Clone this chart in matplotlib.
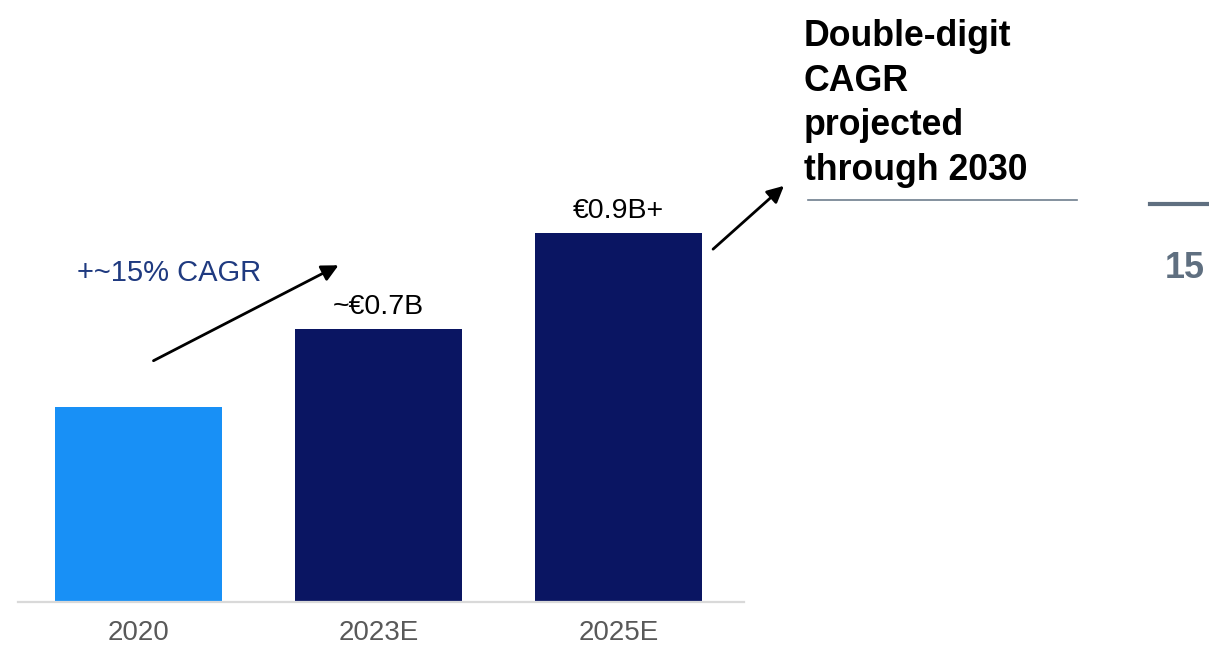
import matplotlib
matplotlib.use("Agg")
import matplotlib.pyplot as plt

plt.rcParams['font.family'] = ['Liberation Sans', 'DejaVu Sans']

# Revenue by year (EUR billions)
years = ["2020", "2023E", "2025E"]
revenue = [0.50, 0.70, 0.945]
value_labels = ["", "~€0.7B", "€0.9B+"]
bar_colors = ["#1890F6", "#0A1562", "#0A1562"]

cagr_label = "+~15% CAGR"
headline = "Double-digit\nCAGR\nprojected\nthrough 2030"
page_number = "15"

W, H = 1209, 646
fig = plt.figure(figsize=(W / 100, H / 100), dpi=100)
fig.patch.set_facecolor("white")

def fx(px):
    return px / W

def fy(py):
    return 1 - py / H

ax = fig.add_axes([fx(18), fy(602), fx(744) - fx(18), 602 / H])
x = list(range(len(years)))
bars = ax.bar(x, revenue, width=0.696, color=bar_colors, zorder=2)
ax.set_xlim(-0.502, 2.523)
ax.set_ylim(0, 1.5416)

for rect, lab in zip(bars, value_labels):
    if lab:
        ax.annotate(lab, (rect.get_x() + rect.get_width() / 2, rect.get_height()),
                    xytext=(0, 10.5), textcoords="offset points",
                    ha="center", va="baseline", fontsize=20.5, color="black")

ax.set_xticks(x)
ax.set_xticklabels(years, fontsize=20, color="#595959")
ax.tick_params(axis="x", length=0, pad=13)
ax.set_yticks([])
for side in ["top", "right", "left"]:
    ax.spines[side].set_visible(False)
ax.spines["bottom"].set_color("#D9D9D9")
ax.spines["bottom"].set_linewidth(1.6)

# Growth arrow between 2020 and 2023E
fig.add_artist(matplotlib.patches.FancyArrowPatch(
    (fx(151), fy(362)), (fx(341), fy(264)), transform=fig.transFigure,
    arrowstyle="-|>,head_length=10,head_width=5", mutation_scale=1,
    color="black", lw=2))
fig.text(fx(77), fy(281), cagr_label, fontsize=21, color="#1F3A80",
         ha="left", va="baseline")

# Arrow from 2025E towards the headline
fig.add_artist(matplotlib.patches.FancyArrowPatch(
    (fx(711), fy(251)), (fx(786), fy(184)), transform=fig.transFigure,
    arrowstyle="-|>,head_length=10,head_width=5", mutation_scale=1,
    color="black", lw=2))

fig.text(fx(804), fy(180), headline, fontsize=25.7, fontweight="bold",
         color="black", ha="left", va="baseline", linespacing=1.36)
fig.add_artist(matplotlib.lines.Line2D([fx(808), fx(1077)], [fy(200), fy(200)],
                                       color="#6E7E8E", lw=1.2,
                                       transform=fig.transFigure))

# Page marker
fig.add_artist(matplotlib.lines.Line2D([fx(1150), fx(1209)], [fy(204), fy(204)],
                                       color="#5F6F80", lw=3,
                                       transform=fig.transFigure))
fig.text(fx(1205), fy(278), page_number, fontsize=25.8, fontweight="bold",
         color="#5F6F80", ha="right", va="baseline")

fig.savefig("out.png", dpi=100)
